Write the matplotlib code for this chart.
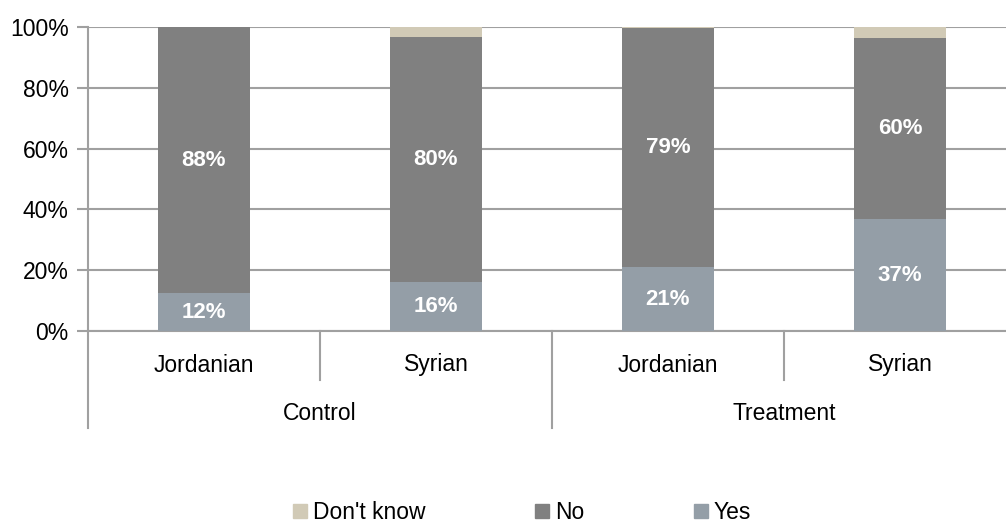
import numpy as np
import matplotlib
matplotlib.use("Agg")
import matplotlib.pyplot as plt
from matplotlib.patches import Patch

plt.rcParams['font.family'] = ['Liberation Sans Narrow', 'Liberation Sans', 'DejaVu Sans']

groups = ["Control", "Treatment"]
subgroups = ["Jordanian", "Syrian", "Jordanian", "Syrian"]
yes = [12.4, 16.1, 21.0, 36.8]
no = [87.6, 80.6, 78.6, 59.6]
dont_know = [0.0, 3.3, 0.4, 3.6]
yes_labels = ["12%", "16%", "21%", "37%"]
no_labels = ["88%", "80%", "79%", "60%"]

c_yes = "#949ea7"
c_no = "#808080"
c_dk = "#d1cab6"
grid_c = "#a0a0a0"

fig = plt.figure(figsize=(10.06, 5.24), dpi=100)
# plot area runs a little past the right edge of the picture, like the original
ax = fig.add_axes([88 / 1006, 1 - 331 / 524, 928 / 1006, (331 - 27) / 524])

x = np.arange(len(subgroups))
w = 0.4
yes_a = np.array(yes)
no_a = np.array(no)
dk_a = np.array(dont_know)

ax.bar(x, yes_a, w, color=c_yes, zorder=3)
ax.bar(x, no_a, w, bottom=yes_a, color=c_no, zorder=3)
ax.bar(x, dk_a, w, bottom=yes_a + no_a, color=c_dk, zorder=3)

for i in x:
    ax.text(i, yes_a[i] / 2, yes_labels[i], ha="center", va="center",
            color="white", fontsize=16, fontweight="bold", zorder=4)
    ax.text(i, yes_a[i] + no_a[i] / 2, no_labels[i], ha="center", va="center",
            color="white", fontsize=16, fontweight="bold", zorder=4)

ax.set_xlim(-0.5, 3.5)
ax.set_ylim(0, 100)
ax.set_yticks(range(0, 101, 20))
ax.set_yticklabels([f"{v}%" for v in range(0, 101, 20)], fontsize=16.5)
ax.yaxis.grid(True, color=grid_c, linewidth=1.5, zorder=0)
ax.tick_params(axis="y", length=8, width=1.5, color=grid_c, pad=6)
ax.set_xticks([])

for s in ["top", "right"]:
    ax.spines[s].set_visible(False)
ax.spines["left"].set_color(grid_c)
ax.spines["left"].set_linewidth(1.5)
ax.spines["bottom"].set_color(grid_c)
ax.spines["bottom"].set_linewidth(1.5)

# multi-level category axis
tr = ax.get_xaxis_transform()
def below(p):
    return -p / (331 - 27)

for xi, lab in zip(x, subgroups):
    ax.text(xi, below(34), lab, transform=tr, ha="center", va="center", fontsize=16.5)
for gi, g in enumerate(groups):
    ax.text(gi * 2 + 0.5, below(82), g, transform=tr, ha="center", va="center", fontsize=16.5)
for xs in [0.5, 2.5]:
    ax.plot([xs, xs], [0, below(49)], transform=tr, color=grid_c, lw=1.5, clip_on=False)
for xs in [-0.5, 1.5]:
    ax.plot([xs, xs], [0, below(97)], transform=tr, color=grid_c, lw=1.5, clip_on=False)

handles = [Patch(color=c_dk), Patch(color=c_no), Patch(color=c_yes)]
fig.legend(handles, ["Don't know", "No", "Yes"], loc="center",
           bbox_to_anchor=(522 / 1006, 0.022), ncol=3, frameon=False,
           fontsize=16.5, handlelength=0.6, handleheight=0.6, handletextpad=0.25,
           columnspacing=4.8)

fig.savefig("out.png", dpi=100)
